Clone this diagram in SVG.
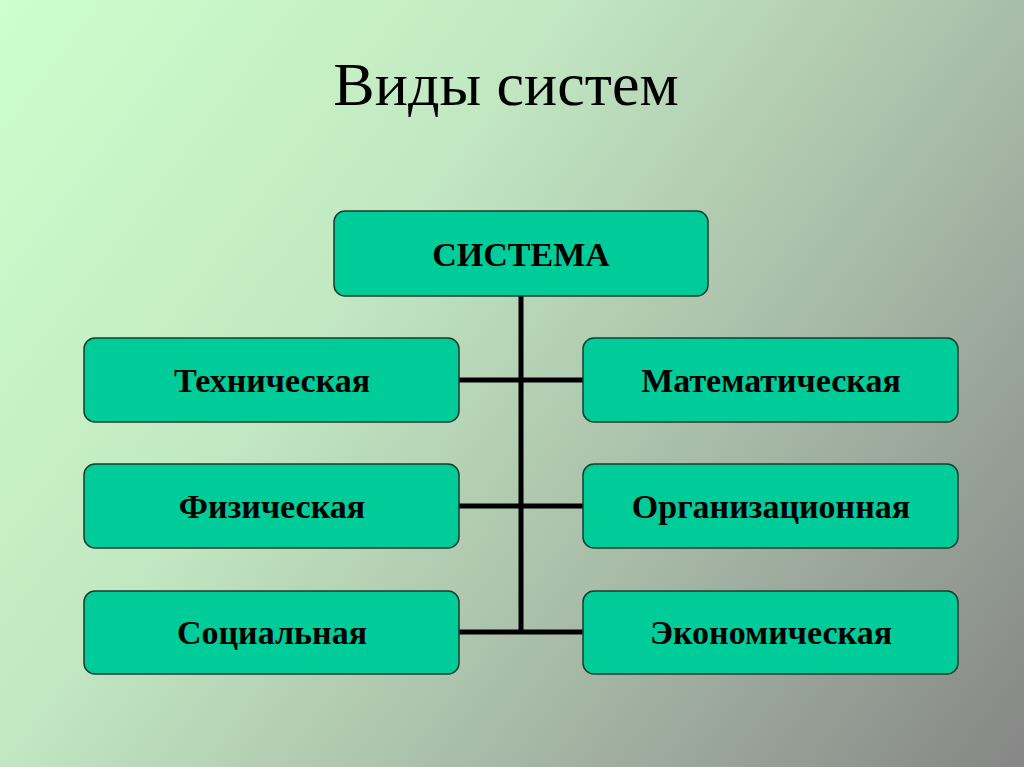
<svg xmlns="http://www.w3.org/2000/svg" width="1024" height="767" viewBox="0 0 1024 767">
<defs>
<linearGradient id="bg" x1="0" y1="0" x2="1024" y2="767" gradientUnits="userSpaceOnUse">
<stop offset="0" stop-color="#ccffcc"/>
<stop offset="0.35" stop-color="#c2e8c2"/>
<stop offset="0.65" stop-color="#a8bca8"/>
<stop offset="1" stop-color="#868686"/>
</linearGradient>
<style>
.box{fill:#00cc99;stroke:#173d2c;stroke-width:1.5}
.lbl{font-family:"Liberation Serif","Times New Roman",serif;font-weight:bold;font-size:34px;fill:#000;text-anchor:middle}
.ttl{font-family:"Liberation Serif","Times New Roman",serif;font-size:62px;fill:#000;text-anchor:middle}
.con{stroke:#000;stroke-width:5;fill:none}
</style>
</defs>
<rect width="1024" height="767" fill="url(#bg)"/>
<text class="ttl" x="506" y="105">Виды систем</text>
<g id="connectors">
<line class="con" x1="521" y1="296" x2="521" y2="634"/>
<line class="con" x1="459" y1="380" x2="583" y2="380"/>
<line class="con" x1="459" y1="506" x2="583" y2="506"/>
<line class="con" x1="459" y1="632" x2="583" y2="632"/>
</g>
<g id="sistema"><rect class="box" x="334" y="211" width="374" height="85" rx="11"/><text class="lbl" x="521" y="266">СИСТЕМА</text></g>
<g id="tekhnicheskaya"><rect class="box" x="84" y="338" width="375" height="84" rx="11"/><text class="lbl" x="272" y="392">Техническая</text></g>
<g id="fizicheskaya"><rect class="box" x="84" y="464" width="375" height="84" rx="11"/><text class="lbl" x="272" y="518">Физическая</text></g>
<g id="socialnaya"><rect class="box" x="84" y="591" width="375" height="83" rx="11"/><text class="lbl" x="272" y="644">Социальная</text></g>
<g id="matematicheskaya"><rect class="box" x="583" y="338" width="375" height="84" rx="11"/><text class="lbl" x="771" y="392">Математическая</text></g>
<g id="organizacionnaya"><rect class="box" x="583" y="464" width="375" height="84" rx="11"/><text class="lbl" x="771" y="518">Организационная</text></g>
<g id="ekonomicheskaya"><rect class="box" x="583" y="591" width="375" height="83" rx="11"/><text class="lbl" x="771" y="644">Экономическая</text></g>
</svg>
